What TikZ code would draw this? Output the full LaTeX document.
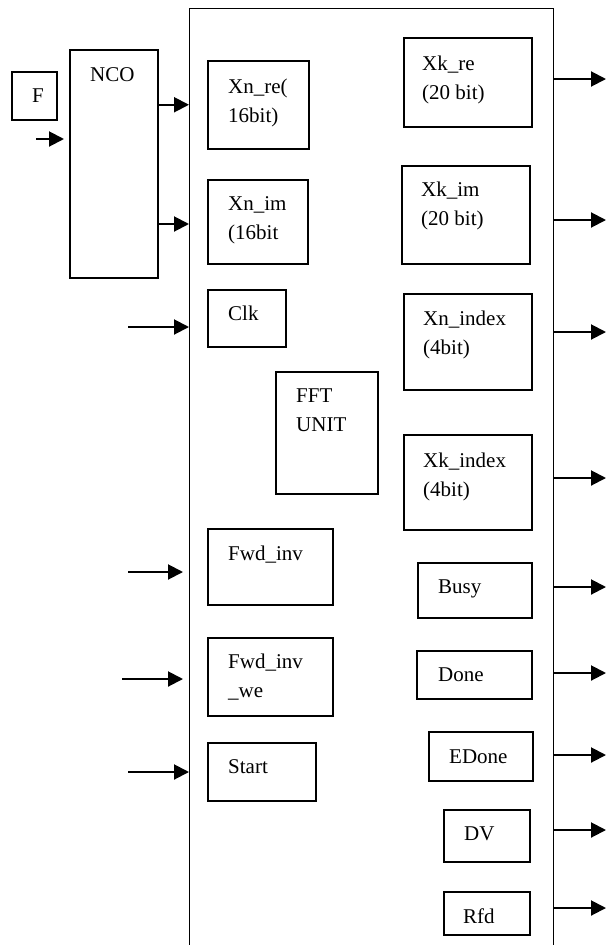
\documentclass[tikz,border=0pt]{standalone}
\usepackage{fontspec}
\setmainfont{Liberation Serif}
\usetikzlibrary{arrows.meta}

\begin{document}
\begin{tikzpicture}[x=1pt,y=-1pt,
    blk/.style={draw, line width=1.5pt, anchor=north west, inner sep=0pt},
    txt/.style={anchor=base west, align=left, inner sep=0pt, font=\fontsize{21}{29}\selectfont},
    arr/.style={-{Triangle[length=15pt,width=15pt]}, line width=2pt}]

\useasboundingbox (0,0) rectangle (606,945);
\clip (0,0) rectangle (606,945);

% define the blocks
  \node[blk, minimum width=45pt,  minimum height=48pt]  (f)     at (11,71)  {};
  \node[blk, minimum width=88pt,  minimum height=228pt] (nco)   at (69,49)  {};
  \node[blk, line width=1.3pt, minimum width=364pt, minimum height=960pt] (core) at (189,8) {};

  \node[blk, minimum width=101pt, minimum height=88pt]  (xnre)  at (207,60)  {};
  \node[blk, minimum width=100pt, minimum height=84pt]  (xnim)  at (207,179) {};
  \node[blk, minimum width=78pt,  minimum height=57pt]  (clk)   at (207,289) {};
  \node[blk, minimum width=102pt, minimum height=122pt] (unit)  at (275,371) {};
  \node[blk, minimum width=125pt, minimum height=76pt]  (fwd)   at (207,528) {};
  \node[blk, minimum width=125pt, minimum height=78pt]  (fwdwe) at (207,637) {};
  \node[blk, minimum width=108pt, minimum height=58pt]  (start) at (207,742) {};

  \node[blk, minimum width=128pt, minimum height=89pt]  (xkre)  at (403,37)  {};
  \node[blk, minimum width=128pt, minimum height=98pt]  (xkim)  at (401,165) {};
  \node[blk, minimum width=128pt, minimum height=96pt]  (xnidx) at (403,293) {};
  \node[blk, minimum width=128pt, minimum height=95pt]  (xkidx) at (403,434) {};
  \node[blk, minimum width=114pt, minimum height=55pt]  (busy)  at (417,562) {};
  \node[blk, minimum width=115pt, minimum height=48pt]  (done)  at (416,650) {};
  \node[blk, minimum width=104pt, minimum height=49pt]  (edone) at (428,731) {};
  \node[blk, minimum width=86pt,  minimum height=52pt]  (dv)    at (443,809) {};
  \node[blk, minimum width=86pt,  minimum height=43pt]  (rfd)   at (443,891) {};

% define the texts (base = last line)
  \node[txt] (f-t)     at (32,102)  {F};
  \node[txt] (nco-t)   at (90,81)   {NCO};
  \node[txt] (xnre-t)  at (228,122) {Xn\_re(\\16bit)};
  \node[txt] (xnim-t)  at (228,239) {Xn\_im\\(16bit};
  \node[txt] (clk-t)   at (228,320) {Clk};
  \node[txt] (unit-t)  at (296,431) {FFT\\UNIT};
  \node[txt] (fwd-t)   at (228,560) {Fwd\_inv};
  \node[txt] (fwdwe-t) at (228,697) {Fwd\_inv\\\_we};
  \node[txt] (start-t) at (228,773) {Start};
  \node[txt] (xkre-t)  at (422,99)  {Xk\_re\\(20 bit)};
  \node[txt] (xkim-t)  at (421,225) {Xk\_im\\(20 bit)};
  \node[txt] (xnidx-t) at (423,354) {Xn\_index\\(4bit)};
  \node[txt] (xkidx-t) at (423,496) {Xk\_index\\(4bit)};
  \node[txt] (busy-t)  at (438,593) {Busy};
  \node[txt] (done-t)  at (438,681) {Done};
  \node[txt] (edone-t) at (449,763) {EDone};
  \node[txt] (dv-t)    at (464,840) {DV};
  \node[txt] (rfd-t)   at (463,923) {Rfd};

% define the links
  \coordinate (in-f)     at (36,139);
  \coordinate (in-clk)   at (128,327);
  \coordinate (in-fwd)   at (128,572);
  \coordinate (in-fwdwe) at (122,679);
  \coordinate (in-start) at (128,772);

  \draw[arr, shorten >=5pt] (in-f) -- (in-f -| nco.west);
  \draw[arr] (nco.east |- xnre) -- (core.west |- xnre);
  \draw[arr] (nco.east |- 0,224) -- (core.west |- 0,224);
  \draw[arr] (in-clk) -- (in-clk -| core.west);
  \draw[arr, shorten >=6pt] (in-fwd) -- (in-fwd -| core.west);
  \draw[arr, shorten >=6pt] (in-fwdwe) -- (in-fwdwe -| core.west);
  \draw[arr] (in-start) -- (in-start -| core.west);

  \foreach \y in {79,220,332,478,587,673,755,830,908}
    {\coordinate (out) at (606,\y);
     \draw[arr] (out -| core.east) -- (out);}

\end{tikzpicture}
\end{document}
